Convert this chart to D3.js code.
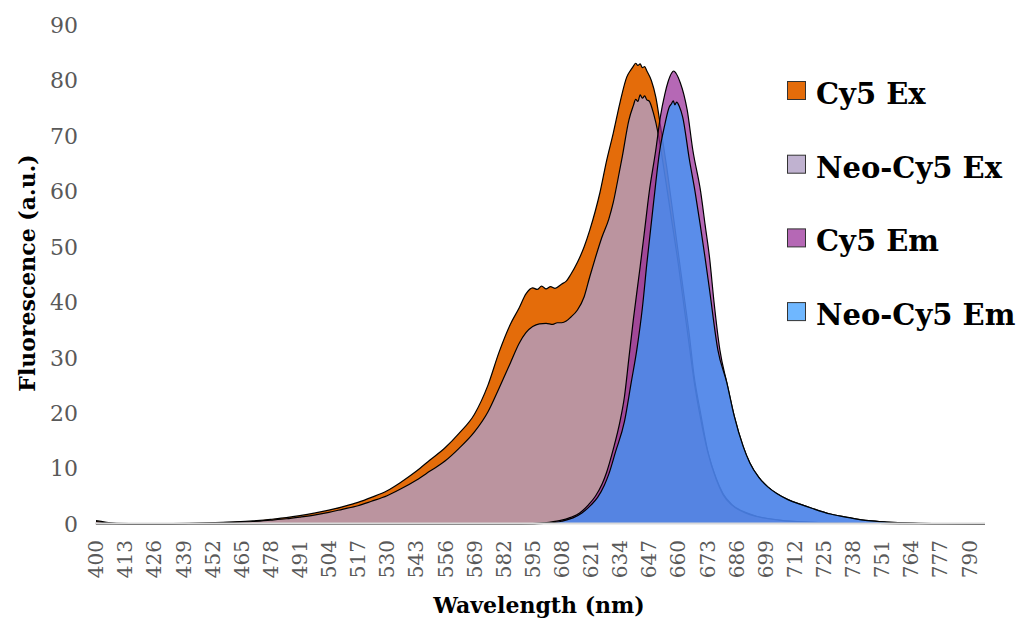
<!DOCTYPE html>
<html lang="en">
<head>
<meta charset="utf-8"/>
<title>Cy5 spectra</title>
<script src="https://cdnjs.cloudflare.com/ajax/libs/d3/7.8.5/d3.min.js"></script>
<style>
  body { margin: 0; background: white; }
  text { font-family: "DejaVu Serif", "Liberation Serif", serif; }
  .tick-label { fill: #595959; }
  .title { font-weight: bold; fill: #000; }
</style>
</head>
<body>
<div id="chart"></div>
<script>
// wavelength (nm), fluorescence (a.u.)
var cy5Ex = [[400,0.6],[404,0.35],[410,0.1],[420,0.05],[430,0.05],[440,0.1],[450,0.2],[460,0.35],[470,0.55],[478,0.85],[485,1.15],[491,1.5],[498,2.0],[504,2.5],[510,3.1],[517,3.9],[523,4.8],[530,6.0],[536,7.5],[543,9.5],[549,11.5],[556,13.8],[562,16.3],[569,19.8],[575,25],[580,31],[585,36],[589,39],[592,41.5],[595,42.6],[597,42.3],[599,42.9],[601,42.4],[603,42.8],[605,42.5],[608,43.3],[610,43.8],[612,45],[615,47.2],[618,50],[620.5,53],[623,56.5],[625,59.7],[628,65.5],[631,70.5],[634,76],[637,80.6],[639,82],[640,82.6],[641,83.1],[642,82.7],[643,83],[644,82.3],[645,82.5],[646,81.7],[648,80],[650,77],[652,72],[655,64],[658,55],[660,49],[663,40],[665,34],[667,27],[670,20],[673,13.5],[677,8.2],[680,5.5],[684,3.5],[690,2.1],[695,1.4],[705,0.7],[720,0.3],[740,0.15],[760,0.05],[797,0]];

var neoEx = [[400,0.45],[404,0.25],[410,0.08],[420,0.04],[430,0.04],[440,0.08],[450,0.15],[460,0.3],[470,0.45],[478,0.7],[485,0.95],[491,1.25],[498,1.65],[504,2.1],[510,2.65],[517,3.3],[523,4.1],[530,5.1],[536,6.3],[543,7.9],[549,9.5],[556,11.4],[562,13.6],[569,16.6],[575,20.2],[580,24.5],[585,29],[589,32.6],[592,34.5],[595,35.6],[598,36.1],[601,36.2],[604,36.0],[606,36.3],[608,36.3],[610,36.6],[612,37.3],[615,38.6],[618,41],[620.5,44.6],[623,48],[626,51.8],[629,55],[631,58],[633,62],[635,66.2],[638,72.9],[640,75.5],[641,76.6],[642,76.2],[643,77.4],[644,76.8],[645,77.2],[646,76.5],[647,76.3],[649,74],[651,70.5],[654,63],[657,55],[660,47],[663,38],[665,32],[667,26],[670,19],[673,13.3],[677,8],[680,5.3],[684,3.4],[690,2],[695,1.35],[705,0.7],[720,0.3],[740,0.15],[760,0.05],[797,0]];

var cy5Em = [[400,0],[590,0],[600,0.2],[607,0.6],[612,1.2],[616,2],[620,3.5],[623,5],[626,7.2],[628,9.3],[631,13.5],[634,18.5],[636,23],[638,30],[640,37],[643,46.4],[645,53],[647,59.7],[650,67.5],[652,73.4],[654,77.5],[655.5,79.8],[657,81.3],[658,81.7],[659,81.3],[661,79.5],[662.5,77.5],[664,74.7],[666.5,67.5],[670,60],[672,54],[674,48],[676,40],[678.6,31.4],[681.7,25.5],[685,19.5],[689,14],[692,11],[696,8.4],[700,6.7],[704,5.5],[709,4.4],[715,3.5],[720,2.8],[728,1.8],[737,1.1],[745,0.6],[753,0.35],[765,0.15],[780,0.05],[797,0]];

var neoEm = [[400,0],[592,0],[600,0.1],[608,0.5],[613,1.1],[617,2],[621,3.4],[624,4.8],[627,7],[629,9],[632,13],[636,18.5],[639,25.5],[641.5,31.4],[644,39],[646,47],[649,58],[651.8,67.5],[654,72],[656,75.2],[657,75.8],[657.8,76.3],[658.5,75.6],[659.3,76.1],[660.5,75.3],[662,73.4],[665,65.7],[667.5,60],[669.7,54.3],[672,48],[674,42.2],[677.7,31.4],[681.7,25.5],[685,19.5],[689,14],[692,11],[696,8.4],[700,6.7],[704,5.5],[709,4.4],[715,3.5],[720,2.8],[728,1.8],[737,1.1],[745,0.6],[753,0.35],[765,0.15],[780,0.05],[797,0]];

var seriesNames = ["Cy5 Ex", "Neo-Cy5 Ex", "Cy5 Em", "Neo-Cy5 Em"];
var xTicks = [400,413,426,439,452,465,478,491,504,517,530,543,556,569,582,595,608,621,634,647,660,673,686,699,712,725,738,751,764,777,790];
var yTicks = [0,10,20,30,40,50,60,70,80,90];

var series = [
  {name: seriesNames[0], data: cy5Ex, fill: "rgb(228,108,10)"},
  {name: seriesNames[1], data: neoEx, fill: "rgba(176,159,196,0.8)"},
  {name: seriesNames[2], data: cy5Em, fill: "rgba(150,40,150,0.7)"},
  {name: seriesNames[3], data: neoEm, fill: "rgba(55,155,255,0.72)"}
];

var width = 1022, height = 619;
var svg = d3.select("#chart").append("svg")
  .attr("width", width)
  .attr("height", height);

var x = d3.scaleLinear().domain([400, 797]).range([96, 985]);
var y = d3.scaleLinear().domain([0, 90]).range([524, 25]);

var area = d3.area()
  .x(function(d){ return x(d[0]); })
  .y0(y(0))
  .y1(function(d){ return y(d[1]); })
  .curve(d3.curveMonotoneX);

var line = d3.line()
  .x(function(d){ return x(d[0]); })
  .y(function(d){ return y(d[1]); })
  .curve(d3.curveMonotoneX);

series.forEach(function(s){
  svg.append("path")
    .datum(s.data)
    .attr("d", area)
    .style("fill", s.fill);
  svg.append("path")
    .datum(s.data)
    .attr("d", line)
    .style("fill", "none")
    .style("stroke", "#000")
    .style("stroke-width", 1.2);
});

// category axis line
svg.append("line")
  .attr("x1", 95).attr("x2", 985)
  .attr("y1", y(0) - 0.5).attr("y2", y(0) - 0.5)
  .style("stroke", "#d9d9d9")
  .style("stroke-width", 2);

// y tick labels
svg.selectAll(".ylab")
  .data(yTicks)
  .enter()
  .append("text")
  .attr("class", "tick-label")
  .attr("x", 78)
  .attr("y", function(d){ return y(d); })
  .attr("dy", "0.36em")
  .attr("text-anchor", "end")
  .style("font-size", "22px")
  .text(function(d){ return d; });

// x tick labels, rotated
svg.selectAll(".xlab")
  .data(xTicks)
  .enter()
  .append("text")
  .attr("class", "tick-label")
  .attr("transform", function(d){ return "translate(" + x(d) + ",540) rotate(-90)"; })
  .attr("dy", "0.36em")
  .attr("text-anchor", "end")
  .style("font-size", "20px")
  .text(function(d){ return d; });

svg.append("text")
  .attr("class", "title")
  .attr("x", 539)
  .attr("y", 613)
  .attr("text-anchor", "middle")
  .style("font-size", "22px")
  .text("Wavelength (nm)");

svg.append("text")
  .attr("class", "title")
  .attr("transform", "translate(27,273) rotate(-90)")
  .attr("dy", "0.36em")
  .attr("text-anchor", "middle")
  .style("font-size", "22px")
  .text("Fluorescence (a.u.)");

// legend
var legend = svg.selectAll(".legend")
  .data(series)
  .enter()
  .append("g")
  .attr("transform", function(d, i){ return "translate(787," + (104 + i * 73.7) + ")"; });

legend.append("rect")
  .attr("x", 0.5).attr("y", -22.5)
  .attr("width", 18).attr("height", 18)
  .style("fill", function(d){ return d.fill; })
  .style("stroke", "#333")
  .style("stroke-width", 1);

legend.append("text")
  .attr("class", "title")
  .attr("x", 29)
  .attr("y", 0)
  .style("font-size", "29px")
  .text(function(d){ return d.name; });
</script>
</body>
</html>
